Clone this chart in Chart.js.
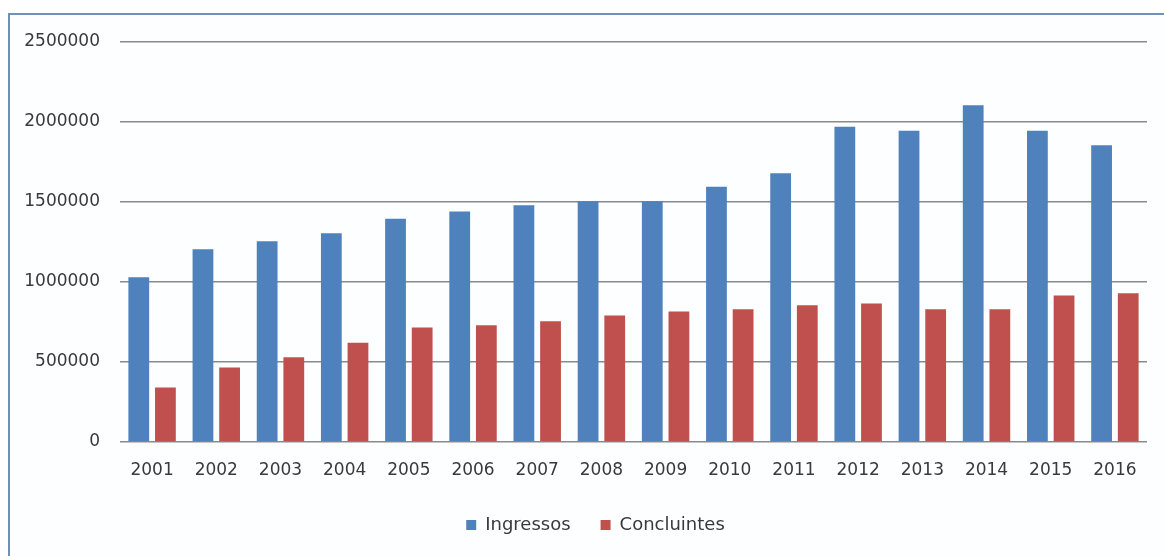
<!DOCTYPE html>
<html>
<head>
<meta charset="utf-8">
<script src="https://cdn.jsdelivr.net/npm/chart.js@4"></script>
<style>
  html, body { margin: 0; padding: 0; background: #fff; overflow: hidden; }
  #frame { position: absolute; left: 8px; top: 13px; width: 1200px; height: 600px;
           border-left: 2px solid #7090b8; border-top: 2px solid #7090b8; background: #fdfeff; }
  #wrap { position: absolute; left: 0; top: 0; width: 1164px; height: 556px; }
</style>
</head>
<body>
<div id="frame"></div>
<div id="wrap"><canvas id="grafico"></canvas></div>
<script>
var anos = ['2001','2002','2003','2004','2005','2006','2007','2008',
            '2009','2010','2011','2012','2013','2014','2015','2016'];
var ingressos = [1030000, 1205000, 1255000, 1305000, 1395000, 1440000, 1480000, 1505000,
                 1505000, 1595000, 1680000, 1970000, 1945000, 2105000, 1945000, 1855000];
var concluintes = [340000, 465000, 530000, 620000, 715000, 730000, 755000, 790000,
                   816000, 829000, 854000, 866000, 829000, 829000, 916000, 929000];
var yTicks = [0, 500000, 1000000, 1500000, 2000000, 2500000];

var fonte = 'DejaVu Sans';

// legenda: mais espaço entre itens sem ficar tão alta, e deslocada para a direita
var ajustaLegenda = {
  id: 'ajustaLegenda',
  afterInit: function(chart) {
    var leg = chart.legend;
    var fitOrig = leg.fit;
    leg.fit = function() {
      fitOrig.call(this);
      this.height = 58;
    };
  },
  afterLayout: function(chart) {
    chart.legend.left += 22;
    chart.legend.right += 22;
  }
};

var ctx = document.getElementById('grafico');
new Chart(ctx, {
  type: 'bar',
  data: {
    labels: anos,
    datasets: [
      { label: 'Ingressos', data: ingressos, backgroundColor: '#4f81bd',
        categoryPercentage: 0.83, barPercentage: 0.78 },
      { label: 'Concluintes', data: concluintes, backgroundColor: '#c0504d',
        categoryPercentage: 0.83, barPercentage: 0.78 }
    ]
  },
  options: {
    responsive: true,
    maintainAspectRatio: false,
    animation: false,
    layout: { padding: { left: 0, right: 17, top: 42, bottom: 12 } },
    scales: {
      x: {
        grid: { display: false, drawTicks: false },
        border: { display: false },
        ticks: { color: '#3a3a3a', font: { family: fonte, size: 17 }, padding: 18, maxRotation: 0 },
        afterFit: function(s) { s.height = 44; }
      },
      y: {
        min: 0,
        max: 2500000,
        afterBuildTicks: function(s) { s.ticks = yTicks.map(function(v) { return { value: v }; }); },
        grid: { color: '#8a8a8a', lineWidth: 1.6, drawTicks: false },
        border: { display: false },
        ticks: { color: '#3a3a3a', font: { family: fonte, size: 17 }, padding: 20,
                 callback: function(v) { return String(v); } },
        afterFit: function(s) { s.width = 120; }
      }
    },
    plugins: {
      legend: {
        position: 'bottom',
        labels: { boxWidth: 10, boxHeight: 10, color: '#3a3a3a', padding: 30,
                  font: { family: fonte, size: 18 } }
      },
      tooltip: { enabled: false }
    }
  },
  plugins: [ajustaLegenda]
});
</script>
</body>
</html>
